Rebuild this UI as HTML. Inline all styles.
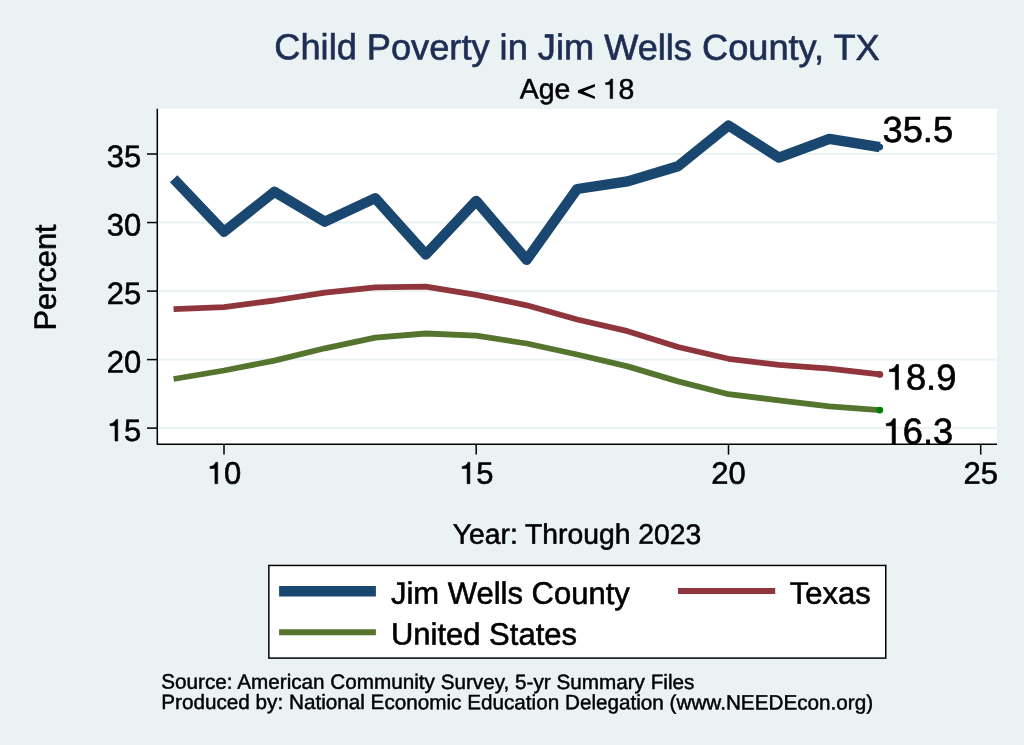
<!DOCTYPE html>
<html><head><meta charset="utf-8"><title>Child Poverty in Jim Wells County, TX</title>
<style>html,body{margin:0;padding:0;width:1024px;height:745px;overflow:hidden;background:#eaf2f3;}svg{display:block;will-change:transform}text{font-family:"Liberation Sans",sans-serif;fill:#000;stroke:#000;stroke-width:0.45px;stroke-linejoin:round}#one{fill:#000;stroke:#000;stroke-linejoin:round;vector-effect:non-scaling-stroke}</style>
</head><body>
<svg width="1024" height="745" viewBox="0 0 1024 745">
<defs><path id="one" vector-effect="non-scaling-stroke" d="M352 0L264 0L264 494L102 494L102 555C190 559 258 598 293 690L352 690Z"/></defs>
<rect x="0" y="0" width="1024" height="745" fill="#eaf2f3"/>
<rect x="157.3" y="108.8" width="839.7" height="335.5" fill="#ffffff"/>
<line x1="158" y1="154.0" x2="997" y2="154.0" stroke="#eaf2f3" stroke-width="2"/>
<line x1="158" y1="222.55" x2="997" y2="222.55" stroke="#eaf2f3" stroke-width="2"/>
<line x1="158" y1="291.1" x2="997" y2="291.1" stroke="#eaf2f3" stroke-width="2"/>
<line x1="158" y1="359.6" x2="997" y2="359.6" stroke="#eaf2f3" stroke-width="2"/>
<line x1="158" y1="428.1" x2="997" y2="428.1" stroke="#eaf2f3" stroke-width="2"/>
<polyline points="173.6,379.0 224.0,370.5 274.4,360.6 324.9,348.3 375.3,337.7 425.8,333.5 476.2,335.7 526.7,343.5 577.1,354.5 627.6,366.4 678.0,381.4 728.5,394.2 778.9,400.3 829.4,406.3 879.8,410.1" fill="none" stroke="#55752f" stroke-width="5.8" stroke-linejoin="round" stroke-linecap="butt"/>
<polyline points="173.6,309.1 224.0,307.1 274.4,300.5 324.9,292.7 375.3,287.3 425.8,286.7 476.2,294.8 526.7,305.3 577.1,319.5 627.6,331.2 678.0,347.0 728.5,358.8 778.9,364.9 829.4,368.7 879.8,374.4" fill="none" stroke="#90353b" stroke-width="5.8" stroke-linejoin="round" stroke-linecap="butt"/>
<polyline points="173.6,178.7 224.0,231.7 274.4,191.8 324.9,221.7 375.3,198.2 425.8,254.5 476.2,200.9 526.7,259.8 577.1,189.0 627.6,181.4 678.0,166.3 728.5,125.5 778.9,157.6 829.4,138.9 879.8,147.1" fill="none" stroke="#1a476f" stroke-width="10.3" stroke-linejoin="round" stroke-linecap="butt"/>
<circle cx="879.8" cy="147.1" r="3.3" fill="#1a476f"/>
<circle cx="879.8" cy="374.4" r="3.4" fill="#90353b"/>
<circle cx="879.8" cy="410.05" r="3.4" fill="#008000"/>
<polyline points="157.3,108.8 157.3,444.3 997,444.3" fill="none" stroke="#000" stroke-width="1.5" stroke-linejoin="round"/>
<line x1="147" y1="154.0" x2="157" y2="154.0" stroke="#000" stroke-width="1.5"/>
<line x1="147" y1="222.55" x2="157" y2="222.55" stroke="#000" stroke-width="1.5"/>
<line x1="147" y1="291.1" x2="157" y2="291.1" stroke="#000" stroke-width="1.5"/>
<line x1="147" y1="359.6" x2="157" y2="359.6" stroke="#000" stroke-width="1.5"/>
<line x1="147" y1="428.1" x2="157" y2="428.1" stroke="#000" stroke-width="1.5"/>
<line x1="224.0" y1="445" x2="224.0" y2="454.6" stroke="#000" stroke-width="1.5"/>
<line x1="476.2" y1="445" x2="476.2" y2="454.6" stroke="#000" stroke-width="1.5"/>
<line x1="728.5" y1="445" x2="728.5" y2="454.6" stroke="#000" stroke-width="1.5"/>
<line x1="980.7" y1="445" x2="980.7" y2="454.6" stroke="#000" stroke-width="1.5"/>
<text transform="translate(106.83,166.9) matrix(1,0.001,0,1,0,0)" font-size="31" style="stroke-width:0.57px">35</text>
<text transform="translate(106.83,235.5) matrix(1,0.001,0,1,0,0)" font-size="31" style="stroke-width:0.57px">30</text>
<text transform="translate(106.83,304.0) matrix(1,0.001,0,1,0,0)" font-size="31" style="stroke-width:0.57px">25</text>
<text transform="translate(106.83,372.5) matrix(1,0.001,0,1,0,0)" font-size="31" style="stroke-width:0.57px">20</text>
<text transform="translate(106.83,441.0) matrix(1,0.001,0,1,0,0)" font-size="31" style="stroke-width:0.57px"><tspan style="fill:none;stroke:none">1</tspan>5</text>
<use href="#one" transform="translate(106.83,441.0) scale(0.03100,-0.03100)" style="stroke-width:0.57px"/>
<text transform="translate(206.76,483.7) matrix(1,0.001,0,1,0,0)" font-size="31" style="stroke-width:0.57px"><tspan style="fill:none;stroke:none">1</tspan>0</text>
<use href="#one" transform="translate(206.76,483.7) scale(0.03100,-0.03100)" style="stroke-width:0.57px"/>
<text transform="translate(458.96,483.7) matrix(1,0.001,0,1,0,0)" font-size="31" style="stroke-width:0.57px"><tspan style="fill:none;stroke:none">1</tspan>5</text>
<use href="#one" transform="translate(458.96,483.7) scale(0.03100,-0.03100)" style="stroke-width:0.57px"/>
<text transform="translate(711.26,483.7) matrix(1,0.001,0,1,0,0)" font-size="31" style="stroke-width:0.57px">20</text>
<text transform="translate(963.46,483.7) matrix(1,0.001,0,1,0,0)" font-size="31" style="stroke-width:0.57px">25</text>
<text transform="translate(882.50,141.9) matrix(1,0.001,0,1,0,0)" font-size="36.3" style="stroke-width:0.64px">35.5</text>
<text transform="translate(885.70,389.6) matrix(1,0.001,0,1,0,0)" font-size="36.3" style="stroke-width:0.64px"><tspan style="fill:none;stroke:none">1</tspan>8.9</text>
<use href="#one" transform="translate(885.70,389.6) scale(0.03630,-0.03630)" style="stroke-width:0.64px"/>
<text transform="translate(882.60,443.7) matrix(1,0.001,0,1,0,0)" font-size="36.3" style="stroke-width:0.64px"><tspan style="fill:none;stroke:none">1</tspan>6.3</text>
<use href="#one" transform="translate(882.60,443.7) scale(0.03630,-0.03630)" style="stroke-width:0.64px"/>
<text transform="translate(577,59.6) matrix(1,0.001,0,1,0,0)" font-size="36.2" text-anchor="middle" style="stroke-width:0.64px;fill:#1e2d53;stroke:#1e2d53">Child Poverty in Jim Wells County, TX</text>
<text transform="translate(519.76,98.6) matrix(1,0.001,0,1,0,0)" font-size="28.4" style="stroke-width:0.54px">Age <tspan style="fill:none;stroke:none">&lt;</tspan> <tspan style="fill:none;stroke:none">1</tspan>8</text>
<use href="#one" transform="translate(602.66,98.6) scale(0.02840,-0.02840)" style="stroke-width:0.54px"/>
<polygon points="594.9,84 578,90.15 578,92.65 594.9,99.05 594.9,96.4 583.4,91.4 594.9,86.7" fill="#000"/>
<text transform="translate(577.0,543.8) matrix(1,0.001,0,1,0,0)" font-size="28.3" text-anchor="middle" style="stroke-width:0.54px">Year: Through 2023</text>
<text transform="translate(55.7,277.4) rotate(-90) matrix(1,0.001,0,1,0,0)" font-size="30.8" text-anchor="middle" style="stroke-width:0.57px">Percent</text>
<rect x="268.85" y="565.45" width="616.9" height="92.65" fill="#ffffff" stroke="#000" stroke-width="1.5"/>
<line x1="279.1" y1="591.2" x2="375.9" y2="591.2" stroke="#1a476f" stroke-width="10.4"/>
<line x1="279.1" y1="632.35" x2="375.9" y2="632.35" stroke="#55752f" stroke-width="6"/>
<line x1="678" y1="591.05" x2="775.2" y2="591.05" stroke="#90353b" stroke-width="6"/>
<text transform="translate(390.9,603.7) matrix(1,0.001,0,1,0,0)" font-size="31" style="stroke-width:0.57px">Jim Wells County</text>
<text transform="translate(390.9,644.6) matrix(1,0.001,0,1,0,0)" font-size="31" style="stroke-width:0.57px">United States</text>
<text transform="translate(789.8,603.7) matrix(1,0.001,0,1,0,0)" font-size="31" style="stroke-width:0.57px">Texas</text>
<text transform="translate(161.3,688.6) matrix(1,0.001,0,1,0,0)" font-size="20.7" style="stroke-width:0.45px">Source: American Community Survey, 5-yr Summary Files</text>
<text transform="translate(161.3,708.9) matrix(1,0.001,0,1,0,0)" font-size="20.7" style="stroke-width:0.45px">Produced by: National Economic Education Delegation (www.NEEDEcon.org)</text>
</svg>
</body></html>
